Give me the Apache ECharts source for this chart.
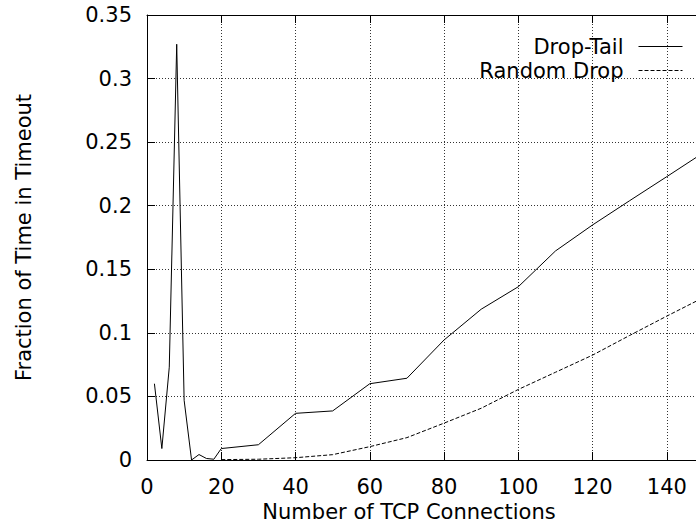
<!DOCTYPE html>
<html>
<head>
<meta charset="utf-8">
<script src="https://cdn.jsdelivr.net/npm/echarts@6/dist/echarts.min.js"></script>
<style>
html,body{margin:0;padding:0;background:#fff;}
#chart{width:696px;height:523px;}
</style>
</head>
<body>
<div id="chart"></div>
<script>
// Data
const dropTailX = [2, 4, 6, 8, 10, 12, 14, 16, 18, 20, 30, 40, 50, 60, 70, 80, 90, 100, 110, 120, 130, 140, 150];
const dropTailY = [0.060, 0.009, 0.073, 0.327, 0.047, 0.000, 0.0043, 0.0012, 0.0006, 0.009, 0.012, 0.0367, 0.0386, 0.060, 0.0643, 0.0944, 0.1186, 0.1363, 0.1644, 0.1849, 0.204, 0.2229, 0.242];
const randomDropX = [20, 30, 40, 50, 60, 70, 80, 90, 100, 110, 120, 130, 140, 150];
const randomDropY = [0.0003, 0.0006, 0.0018, 0.0042, 0.0105, 0.0176, 0.029, 0.0407, 0.0555, 0.069, 0.0825, 0.098, 0.1132, 0.128];
const seriesNames = ['Drop-Tail', 'Random Drop'];
const xAxisTitle = 'Number of TCP Connections';
const yAxisTitle = 'Fraction of Time in Timeout';

function pairs(xs, ys) { return xs.map((x, i) => [x, ys[i]]); }

const FONT = '"DejaVu Sans", "Liberation Sans", Arial, sans-serif';
const FS = 21;
const chart = echarts.init(document.getElementById('chart'), null, { renderer: 'svg' });
chart.setOption({
  animation: false,
  backgroundColor: '#fff',
  grid: { left: 147, top: 15, right: -8, bottom: 63, containLabel: false, outerBoundsMode: 'none' },
  legend: {
    orient: 'vertical',
    right: 13,
    top: 36,
    padding: 0,
    align: 'right',
    itemWidth: 44,
    itemHeight: 14,
    itemGap: 3,
    itemStyle: { opacity: 0 },
    lineStyle: { width: 1 },
    textStyle: { fontFamily: FONT, fontSize: FS, color: '#000', lineHeight: 21, padding: [0, 10, 0, 0] },
    data: seriesNames
  },
  xAxis: [{
    type: 'value',
    min: 0, max: 150, interval: 20,
    name: xAxisTitle,
    nameLocation: 'middle',
    nameGap: 43,
    nameTextStyle: { fontFamily: FONT, fontSize: FS, lineHeight: 18, color: '#000', padding: [0, 33, 0, 0] },
    axisLine: { show: true, onZero: false, lineStyle: { color: '#000', width: 1 } },
    axisTick: { show: true, inside: true, length: 8, lineStyle: { color: '#000' } },
    axisLabel: { fontFamily: FONT, fontSize: FS, color: '#000', margin: 16, showMaxLabel: false },
    splitLine: { show: true, lineStyle: { type: [1, 2], color: '#333', width: 1 } }
  }, {
    type: 'value', position: 'top',
    min: 0, max: 150, interval: 20,
    axisLine: { show: true, onZero: false, lineStyle: { color: '#000', width: 1 } },
    axisTick: { show: true, inside: true, length: 8, lineStyle: { color: '#000' } },
    axisLabel: { show: false },
    splitLine: { show: false }
  }],
  yAxis: {
    type: 'value',
    min: 0, max: 0.35, interval: 0.05,
    name: yAxisTitle,
    nameLocation: 'middle',
    nameGap: 113,
    nameTextStyle: { fontFamily: FONT, fontSize: FS, color: '#000' },
    axisLine: { show: true, onZero: false, lineStyle: { color: '#000', width: 1 } },
    axisTick: { show: true, inside: true, length: 8, lineStyle: { color: '#000' } },
    axisLabel: { fontFamily: FONT, fontSize: FS, color: '#000', margin: 15 },
    splitLine: { show: true, lineStyle: { type: [1, 2], color: '#333', width: 1 } }
  },
  series: [{
    name: seriesNames[0],
    type: 'line',
    data: pairs(dropTailX, dropTailY),
    symbol: 'none',
    lineStyle: { color: '#000', width: 1, type: 'solid' },
    itemStyle: { color: '#000' }
  }, {
    name: seriesNames[1],
    type: 'line',
    data: pairs(randomDropX, randomDropY),
    symbol: 'none',
    lineStyle: { color: '#000', width: 1, type: [4, 2] },
    itemStyle: { color: '#000' }
  }]
});
</script>
</body>
</html>
